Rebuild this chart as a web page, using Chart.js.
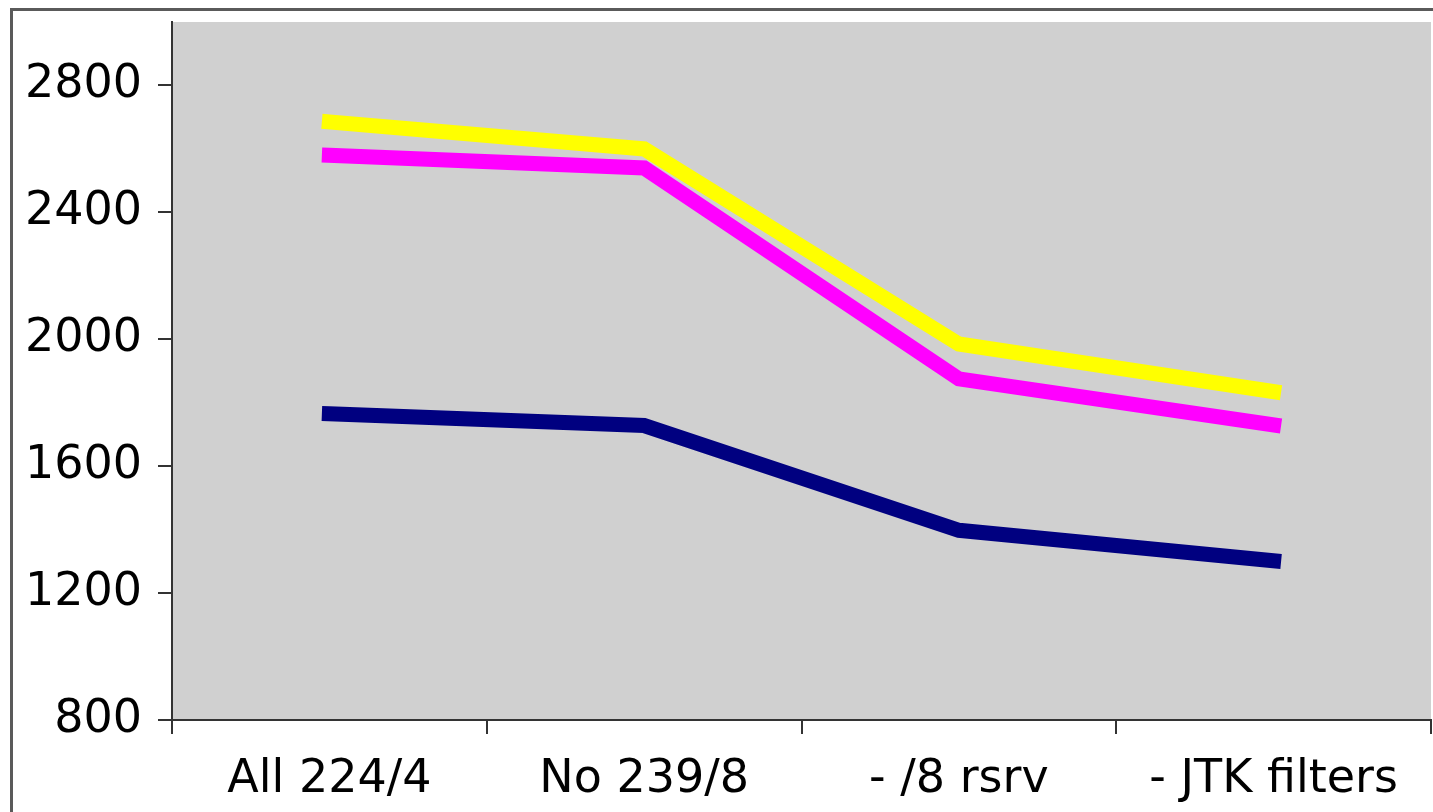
<!DOCTYPE html>
<html>
<head>
<meta charset="utf-8">
<script src="https://cdn.jsdelivr.net/npm/chart.js@4/dist/chart.umd.min.js"></script>
<style>
  html, body { margin: 0; padding: 0; background: #fff; }
  #wrap { width: 1433px; height: 812px; }
</style>
</head>
<body>
<div id="wrap"><canvas id="chart"></canvas></div>
<script>
const categories = ['All 224/4', 'No 239/8', '- /8 rsrv', '- JTK filters'];
const yellowSeries = [2685, 2600, 1985, 1835];
const magentaSeries = [2580, 2540, 1875, 1730];
const navySeries = [1765, 1728, 1398, 1302];
const yTicks = [800, 1200, 1600, 2000, 2400, 2800];

const frame = {
  id: 'frame',
  beforeDraw(chart) {
    const c = chart.ctx, a = chart.chartArea;
    c.save();
    c.fillStyle = '#fff';
    c.fillRect(0, 0, chart.width, chart.height);
    c.strokeStyle = '#5a5a5a';
    c.lineWidth = 3;
    c.strokeRect(11.5, 9.5, chart.width + 10, chart.height + 10);
    c.fillStyle = '#d0d0d0';
    c.fillRect(a.left, a.top, a.right - a.left, a.bottom - a.top);
    c.restore();
  }
};

const font = { family: 'DejaVu Sans', size: 46 };

function series(values, colour) {
  return { data: values, borderColor: colour, borderWidth: 15, borderCapStyle: 'square', pointRadius: 0, tension: 0 };
}

new Chart(document.getElementById('chart'), {
  type: 'line',
  data: {
    labels: categories,
    datasets: [
      series(yellowSeries, '#ffff00'),
      series(magentaSeries, '#ff00ff'),
      series(navySeries, '#000080')
    ]
  },
  options: {
    responsive: true,
    maintainAspectRatio: false,
    animation: false,
    layout: { padding: { top: 22, right: 2, left: 0, bottom: 0 } },
    plugins: { legend: { display: false }, tooltip: { enabled: false } },
    scales: {
      x: {
        offset: true,
        grid: { offset: true, drawOnChartArea: false, tickLength: 14, color: '#333', lineWidth: 2 },
        border: { color: '#333', width: 2 },
        ticks: { font: font, color: '#000', padding: 18, maxRotation: 0 },
        afterFit: s => { s.height = 92; s.paddingLeft = 0; s.paddingRight = 0; }
      },
      y: {
        min: 800,
        max: 3000,
        grid: { drawOnChartArea: false, tickLength: 14, color: '#333', lineWidth: 2 },
        border: { color: '#333', width: 2 },
        ticks: { stepSize: 400, font: font, color: '#000', padding: 16, callback: v => String(v) },
        afterBuildTicks: s => { s.ticks = yTicks.map(v => ({ value: v })); },
        afterFit: s => { s.width = 172; s.paddingTop = 0; s.paddingBottom = 0; }
      }
    }
  },
  plugins: [frame]
});
</script>
</body>
</html>
